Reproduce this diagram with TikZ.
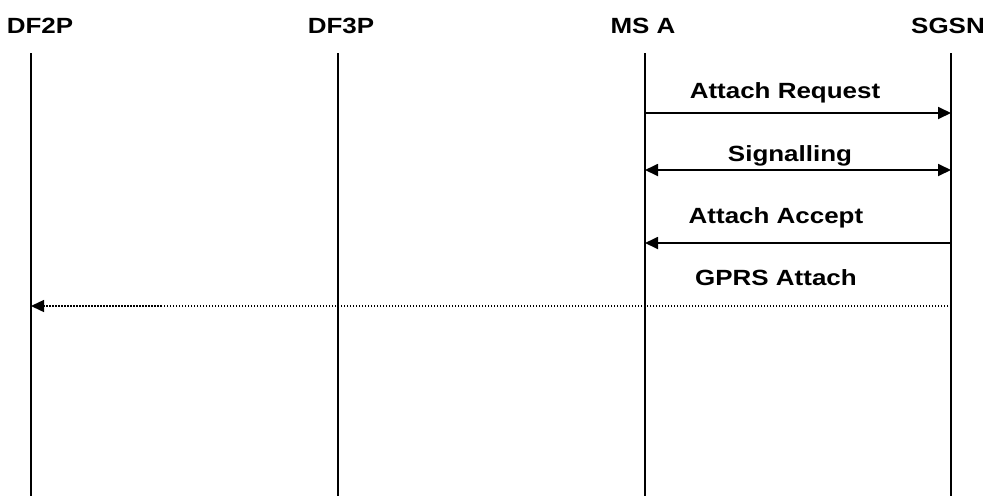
\documentclass[tikz,border=0pt]{standalone}
\usepackage{fontspec}
\setmainfont[FakeStretch=1.18]{Liberation Sans}
\usetikzlibrary{arrows.meta}

\begin{document}
\begin{tikzpicture}[
    x=1pt, y=-1pt,
    font=\bfseries\fontsize{22}{26}\selectfont,
    entity/.style={
      inner sep=0pt,
      anchor=base,
    },
    lifeline/.style={
      draw=black,
      line width=1.8pt,
    },
    msg/.style={
      line width=1.8pt,
      -{Triangle[length=13pt,width=12pt]},
    },
    dualmsg/.style={
      line width=1.8pt,
      {Triangle[length=13pt,width=12pt]}-{Triangle[length=13pt,width=12pt]},
    },
    report/.style={
      line width=1.4pt,
      dash pattern=on 1.5pt off 1.5pt,
      -{Triangle[length=13pt,width=12pt]},
    },
    msgtext/.style={
      inner sep=0pt,
      anchor=base,
    },
  ]

  \useasboundingbox (0,0) rectangle (987,496);

  % Entities
  \node[entity] (df2p) at (40,33) {DF2P};
  \node[entity] (df3p) at (341,33) {DF3P};
  \node[entity] (msa) at (643,33) {MS A};
  \node[entity] (sgsn) at (948,33) {SGSN};

  % Lifelines
  \foreach \name/\x in {df2p/31, df3p/338, msa/645, sgsn/951} {
    \coordinate (\name-top) at (\x,53);
    \coordinate (\name-bot) at (\x,496);
    \draw[lifeline] (\name-top) -- (\name-bot);
  }

  % Message rows
  \coordinate (row1) at (0,113);
  \coordinate (row2) at (0,170);
  \coordinate (row3) at (0,243);
  \coordinate (row4) at (0,306);

  % Messages
  \draw[msg] (msa-top |- row1) -- (sgsn-top |- row1);
  \node[msgtext] (req) at (785,98) {Attach Request};

  \draw[dualmsg] (msa-top |- row2) -- (sgsn-top |- row2);
  \node[msgtext] (sig) at (790,161) {Signalling};

  \draw[msg] (sgsn-top |- row3) -- (msa-top |- row3);
  \node[msgtext] (acc) at (776,223) {Attach Accept};

  \draw[report] (sgsn-top |- row4) -- (df2p-top |- row4);
  \node[msgtext] (gprs) at (776,285) {GPRS Attach};

\end{tikzpicture}
\end{document}
